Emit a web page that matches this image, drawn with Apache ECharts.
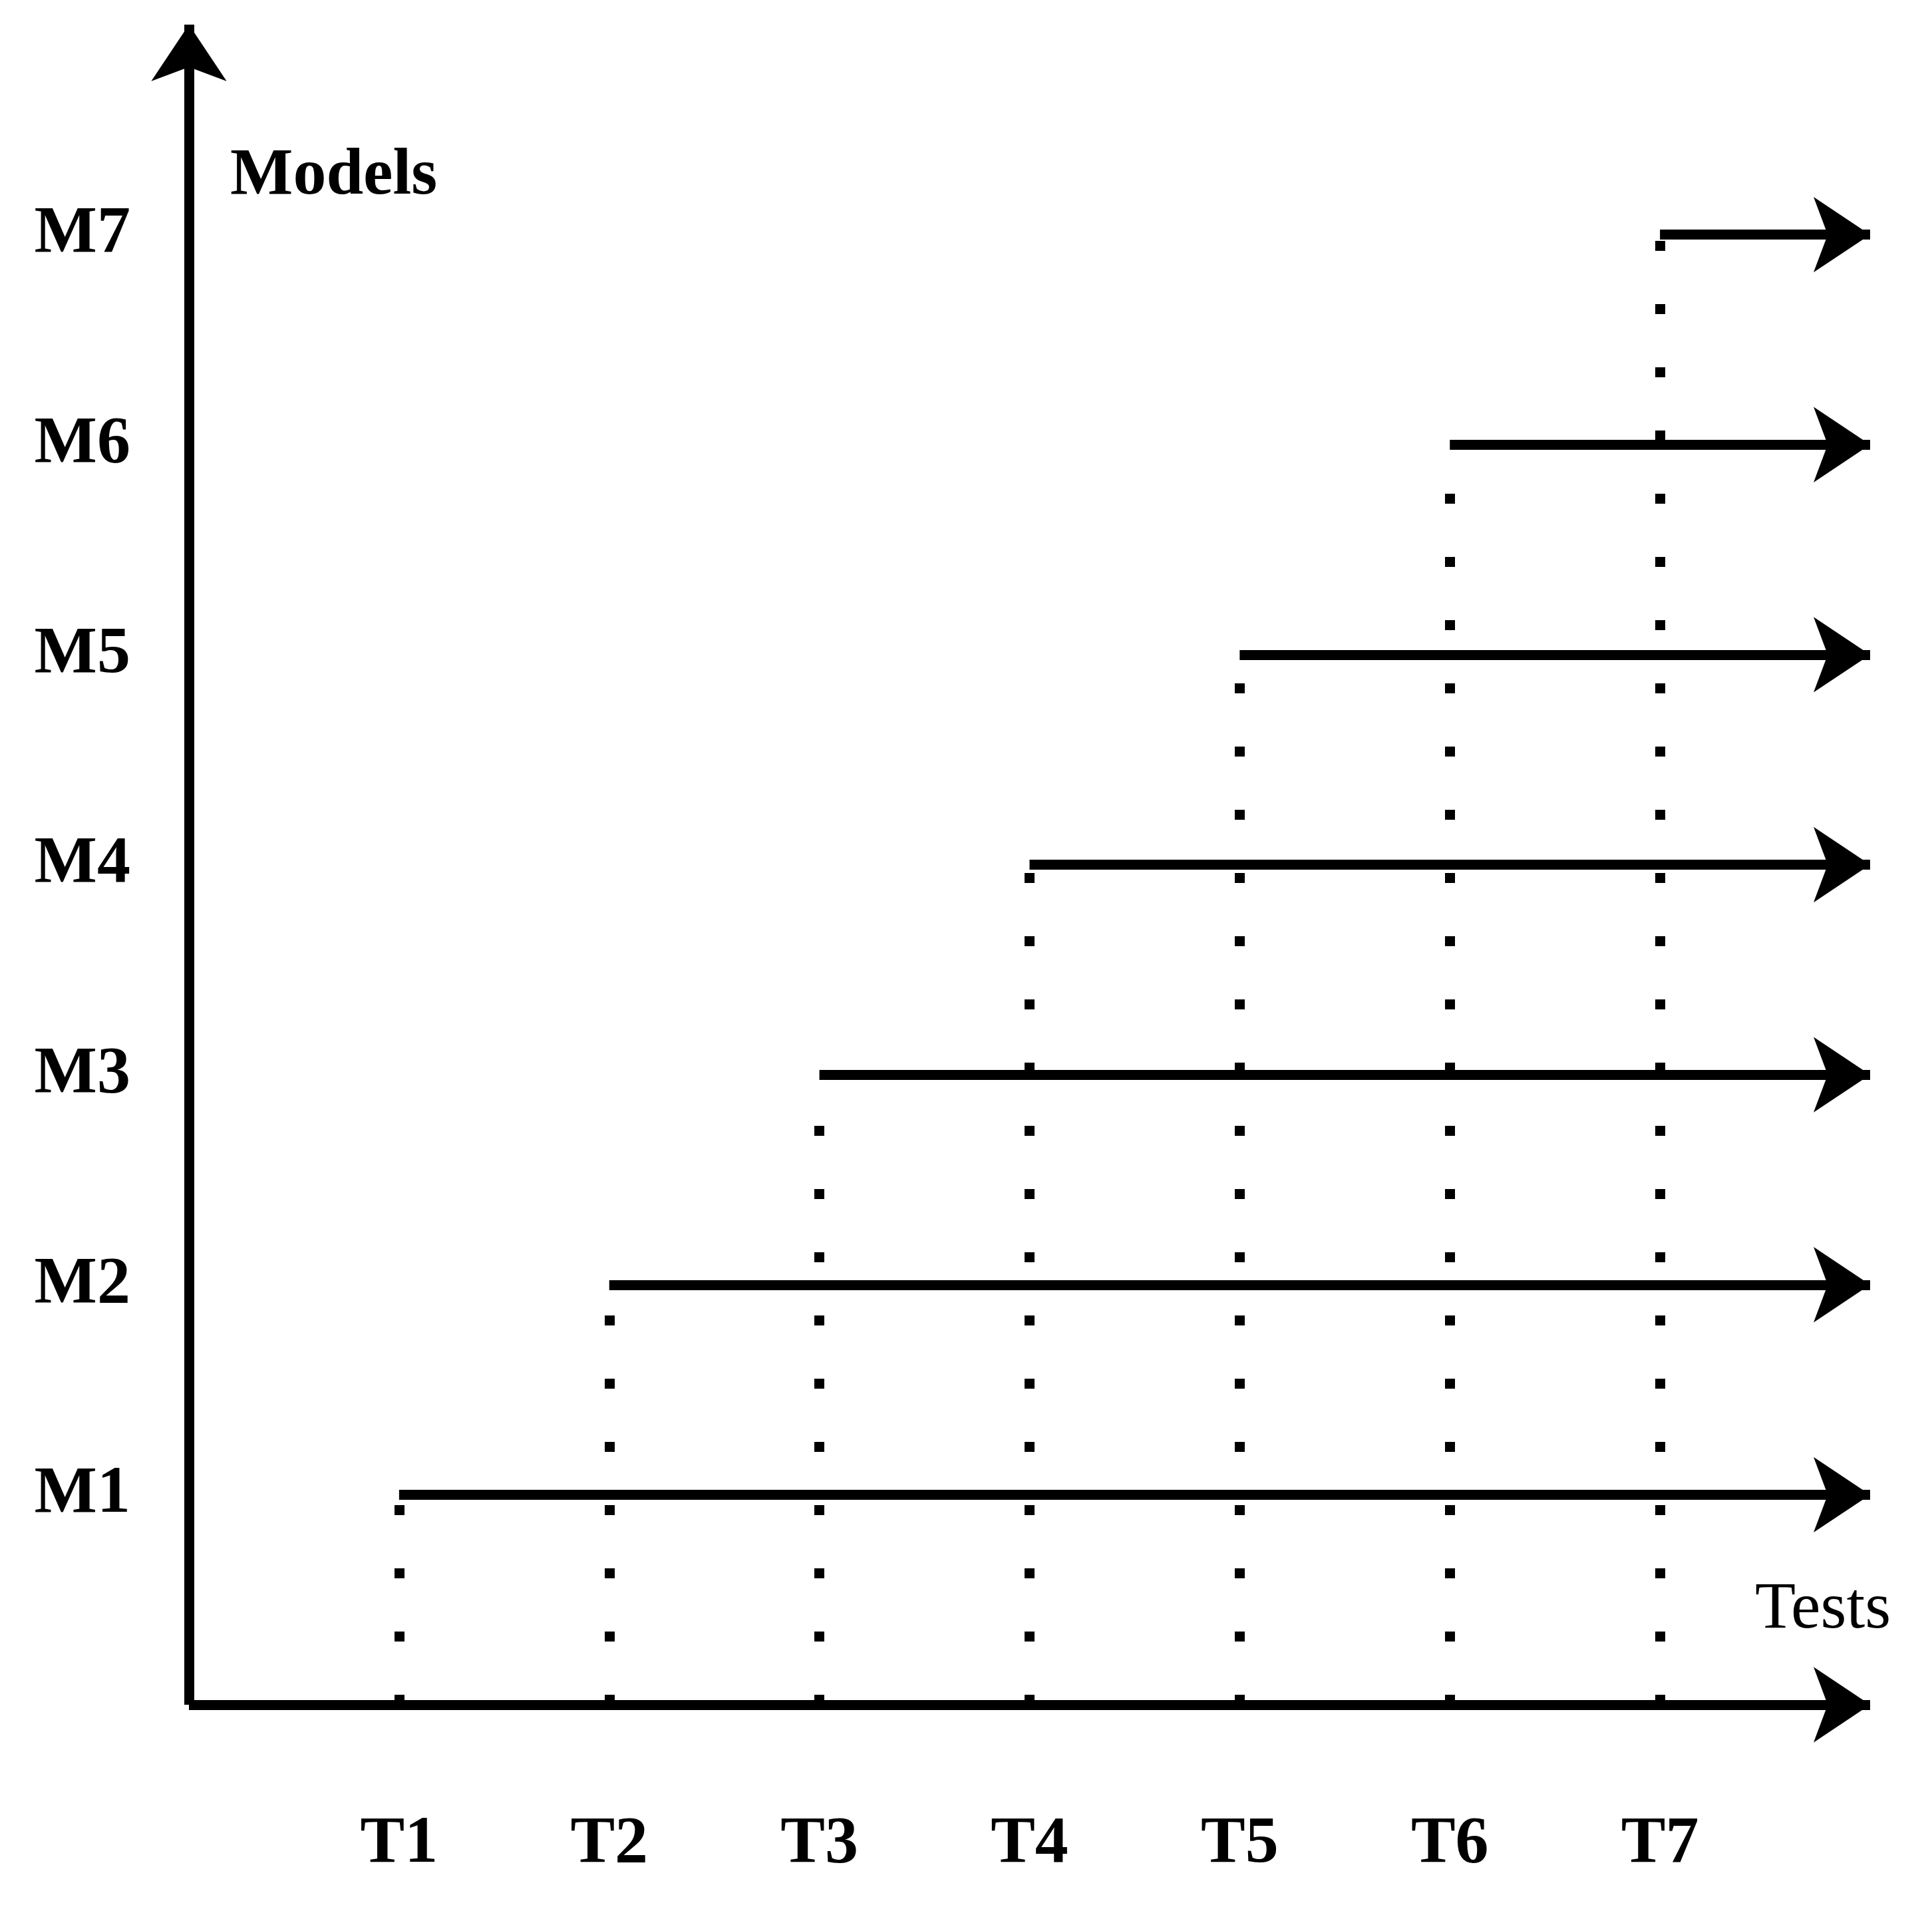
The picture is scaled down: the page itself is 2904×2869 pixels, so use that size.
<!DOCTYPE html>
<html>
<head>
<meta charset="utf-8">
<script src="https://cdn.jsdelivr.net/npm/echarts@6/dist/echarts.min.js"></script>
<style>html,body{margin:0;padding:0;background:#fff}#main{width:2904px;height:2869px}</style>
</head>
<body>
<div id="main"></div>
<script>
// categories
var tests = ['T1', 'T2', 'T3', 'T4', 'T5', 'T6', 'T7'];
var models = ['M1', 'M2', 'M3', 'M4', 'M5', 'M6', 'M7'];
// model i starts at test i
var modelStart = [1, 2, 3, 4, 5, 6, 7];
var axisEnd = 8;

var chart = echarts.init(document.getElementById('main'));

var arrows = [];
// axes
arrows.push({coords: [[0, 0], [axisEnd, 0]]});
arrows.push({coords: [[0, 0], [0, axisEnd]]});
// model lines
for (var i = 0; i < models.length; i++) {
  arrows.push({coords: [[modelStart[i], i + 1], [axisEnd, i + 1]]});
}
var dots = [];
for (var j = 0; j < tests.length; j++) {
  dots.push({coords: [[j + 1, 0], [j + 1, modelStart[j]]]});
}

var font = '"Liberation Serif", "DejaVu Serif", serif';
chart.setOption({
  animation: false,
  grid: {left: 284, right: 93, top: 37, bottom: 307},
  xAxis: {
    type: 'value', min: 0, max: axisEnd, interval: 1,
    axisLine: {show: false}, axisTick: {show: false}, splitLine: {show: false},
    axisLabel: {
      margin: 160, fontFamily: font, fontWeight: 'bold', fontSize: 100, color: '#000',
      formatter: function (v) { return tests[v - 1] || ''; }
    }
  },
  yAxis: {
    type: 'value', min: 0, max: axisEnd, interval: 1,
    axisLine: {show: false}, axisTick: {show: false}, splitLine: {show: false},
    axisLabel: {
      margin: 88, fontFamily: font, fontWeight: 'bold', fontSize: 100, color: '#000',
      formatter: function (v) { return models[v - 1] || ''; }
    }
  },
  graphic: [
    {type: 'text', left: 346, top: 215, style: {text: 'Models', font: 'bold 100px ' + font, fill: '#000'}},
    {type: 'text', left: 2638, top: 2370, style: {text: 'Tests', font: '100px ' + font, fill: '#000'}}
  ],
  series: [
    {
      type: 'lines', coordinateSystem: 'cartesian2d', polyline: false, z: 2, clip: false,
      symbol: ['none', 'arrow'], symbolSize: [80, 85],
      lineStyle: {color: '#000', width: 15, opacity: 1, cap: 'butt'},
      data: arrows
    },
    {
      type: 'lines', coordinateSystem: 'cartesian2d', z: 3, clip: false,
      symbol: 'none',
      lineStyle: {color: '#000', width: 15, opacity: 1, type: [15, 80], cap: 'butt'},
      data: dots
    }
  ]
});
</script>
</body>
</html>
